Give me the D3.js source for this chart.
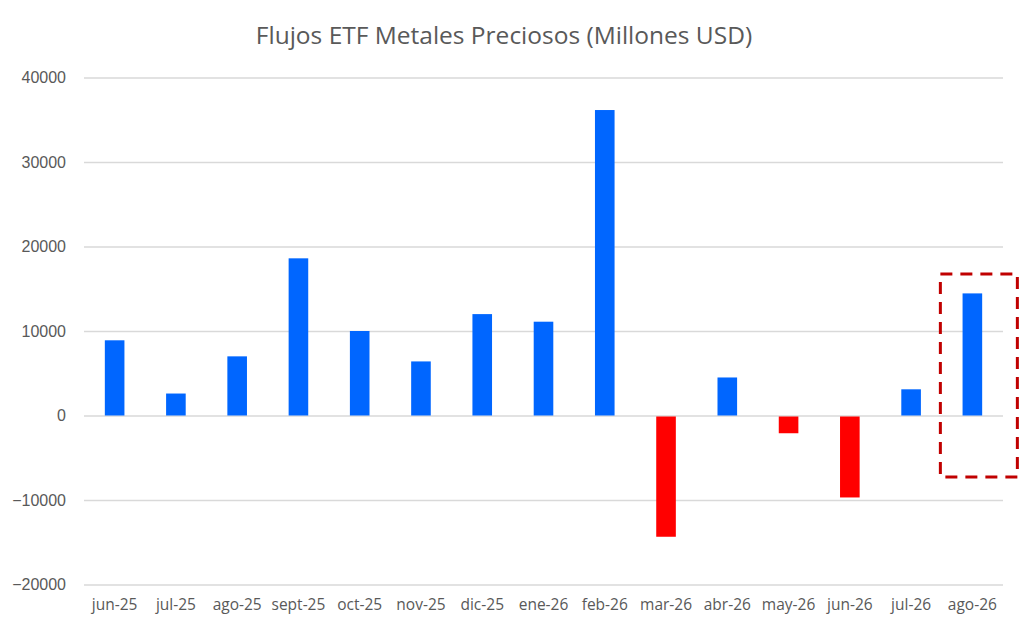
<!DOCTYPE html>
<html lang="es">
<head>
<meta charset="utf-8">
<title>Flujos ETF Metales Preciosos</title>
<script src="https://cdn.jsdelivr.net/npm/d3@7"></script>
<style>
  body { margin: 0; background: #fff; }
  svg { display: block; }
</style>
</head>
<body>
<script>
// --- data ---
var months = ["jun-25","jul-25","ago-25","sept-25","oct-25","nov-25","dic-25","ene-26","feb-26","mar-26","abr-26","may-26","jun-26","jul-26","ago-26"];
var flows = [8900, 2600, 7000, 18600, 10000, 6400, 12000, 11100, 36150, -14350, 4500, -2100, -9700, 3100, 14450];
var yTicks = [-20000, -10000, 0, 10000, 20000, 30000, 40000];
var highlighted = ["ago-26"];

var width = 1026, height = 632;
var plotLeft = 84, plotRight = 1003, plotTop = 77.5, plotBottom = 584.5;

var svg = d3.select("body").append("svg")
            .attr("width", width)
            .attr("height", height);

var x = d3.scaleBand()
          .domain(months)
          .range([plotLeft, plotRight])
          .paddingInner(0.68)
          .paddingOuter(0.34);

var y = d3.scaleLinear()
          .domain([-20000, 40000])
          .range([plotBottom, plotTop]);

// title
svg.append("text")
   .attr("x", 504)
   .attr("y", 44)
   .attr("text-anchor", "middle")
   .attr("font-family", "'Open Sans', sans-serif")
   .attr("font-size", 24.5)
   .attr("fill", "#595959")
   .text("Flujos ETF Metales Preciosos (Millones USD)");

// gridlines + y labels
var yAxis = d3.axisLeft(y)
              .tickValues(yTicks)
              .tickSize(-(plotRight - plotLeft))
              .tickPadding(18)
              .tickFormat(d3.format("d"));

var gy = svg.append("g")
            .attr("transform", "translate(" + plotLeft + ",0)")
            .call(yAxis);
gy.select(".domain").remove();
gy.selectAll(".tick line")
  .attr("stroke", "#d9d9d9")
  .attr("stroke-width", 1.5);
gy.selectAll(".tick text")
  .attr("font-family", "'Liberation Sans', Arial, sans-serif")
  .attr("font-size", 16)
  .attr("fill", "#595959");

// bars
svg.append("g")
   .selectAll("rect")
   .data(months)
   .enter()
   .append("rect")
   .attr("x", function(d) { return x(d); })
   .attr("width", x.bandwidth())
   .attr("y", function(d, i) { return flows[i] >= 0 ? y(flows[i]) : y(0) + 1; })
   .attr("height", function(d, i) { return Math.abs(y(flows[i]) - y(0)) - (flows[i] < 0 ? 1 : 0); })
   .attr("fill", function(d, i) { return flows[i] >= 0 ? "#0066ff" : "#ff0000"; });

// x labels
var xAxis = d3.axisBottom(x).tickSize(0).tickPadding(14);
var gx = svg.append("g")
            .attr("transform", "translate(0," + plotBottom + ")")
            .call(xAxis);
gx.select(".domain").remove();
gx.selectAll(".tick text")
  .attr("font-family", "'Open Sans', sans-serif")
  .attr("font-size", 15.5)
  .attr("fill", "#595959");

// dashed highlight box round the last month
var boxW = 77;
svg.append("g")
   .selectAll("rect")
   .data(highlighted)
   .enter()
   .append("rect")
   .attr("x", function(d) { return x(d) + x.bandwidth() / 2 - 32; })
   .attr("y", 274)
   .attr("width", boxW)
   .attr("height", 203)
   .attr("fill", "none")
   .attr("stroke", "#c00000")
   .attr("stroke-width", 3)
   .attr("stroke-dasharray", "12,8");
</script>
</body>
</html>
